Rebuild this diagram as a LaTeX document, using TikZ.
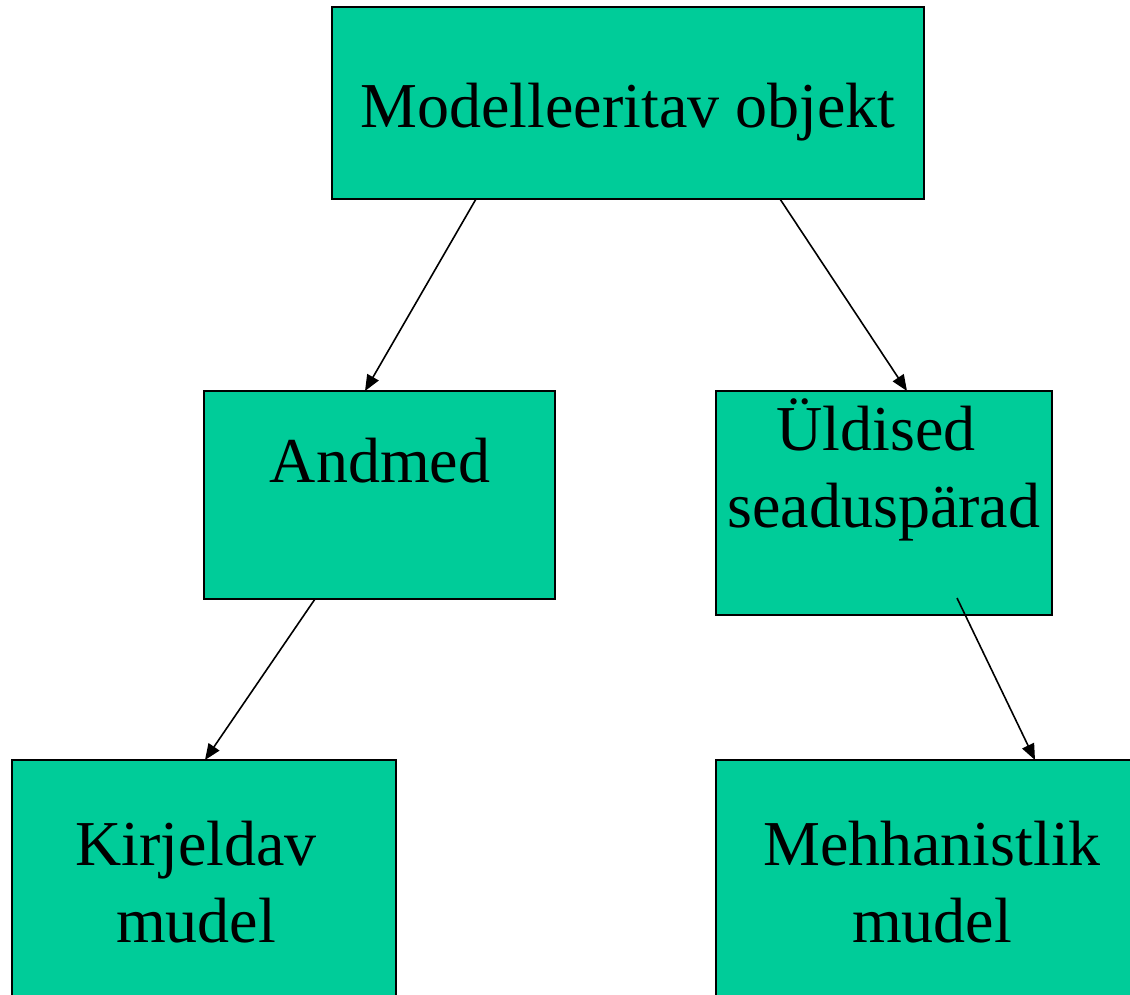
\documentclass[tikz,border=0pt]{standalone}
\usepackage{fontspec}
\setmainfont{Liberation Serif}
\usetikzlibrary{arrows.meta}
\definecolor{boxgreen}{RGB}{0,204,153}

\begin{document}
\begin{tikzpicture}
  [x=0.5pt,y=-0.5pt,
   box/.style={draw=black,line width=0.9pt,fill=boxgreen,rectangle,inner sep=0pt,outer sep=0pt},
   lbl/.style={anchor=base,align=center,inner sep=0pt,font=\fontsize{32}{38.5}\selectfont},
   arr/.style={line width=0.8pt,-{Triangle[length=8pt,width=6.5pt]}}]
  \useasboundingbox (0,0) rectangle (1130,995);
  \clip (0,0) rectangle (1130,995);
  \node[box,minimum width=296pt,minimum height=96pt] (top) at (628,103) {};
  \node[box,minimum width=175.5pt,minimum height=104pt] (andmed) at (379.5,495) {};
  \node[box,minimum width=168pt,minimum height=112pt] (uldised) at (884,503) {};
  \node[box,minimum width=192pt,minimum height=125pt] (kirj) at (204,885) {};
  \node[box,minimum width=217pt,minimum height=125pt] (mehh) at (933,885) {};
  % multi-line labels sit on their last baseline
  \node[lbl] (ttop) at (628,127) {Modelleeritav objekt};
  \node[lbl] (tandmed) at (380,482) {Andmed};
  \node[lbl] (tuldised) at (884,527) {Üldised\kern.25em\\seaduspärad};
  \node[lbl] (tkirj) at (196,942) {Kirjeldav\\mudel};
  \node[lbl] (tmehh) at (932,942) {Mehhanistlik\\mudel};
  \draw[arr] ([xshift=72pt]top.south west) -- ([xshift=80.5pt]andmed.north west);
  \draw[arr] ([xshift=224pt]top.south west) -- ([xshift=95.5pt]uldised.north west);
  \draw[arr] ([xshift=55.5pt]andmed.south west) -- ([xshift=96.5pt]kirj.north west);
  \draw[arr] ([xshift=120.5pt,yshift=8.5pt]uldised.south west) -- ([xshift=159.5pt]mehh.north west);
\end{tikzpicture}
\end{document}
